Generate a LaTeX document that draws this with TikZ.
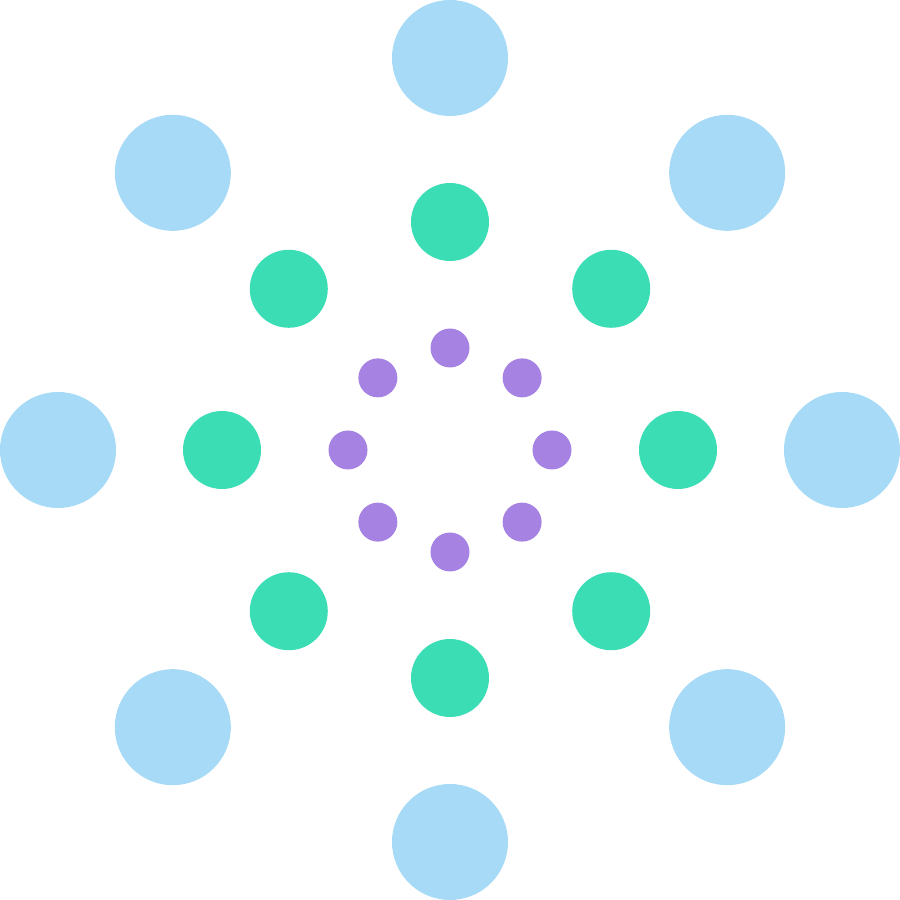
\documentclass[tikz,border=0pt]{standalone}
\usepackage{tikz}
\usetikzlibrary{calc}

\definecolor{outerblue}{HTML}{A6DAF6}
\definecolor{midgreen}{HTML}{3BDDB4}
\definecolor{innerpurple}{HTML}{A682E2}

\begin{document}
\begin{tikzpicture}[
    outer/.style={circle, fill=outerblue, inner sep=0pt, minimum size=11.6mm},
    middle/.style={circle, fill=midgreen, inner sep=0pt, minimum size=7.8mm},
    inner/.style={circle, fill=innerpurple, inner sep=0pt, minimum size=3.9mm}
    ]

    \useasboundingbox (0,0) rectangle (9,9);
    \coordinate (c) at (4.5,4.5);

    \foreach \i in {0,...,7} {
        \node[outer]  (o_\i) at ($(c)+(\i*45:3.92)$) {};
        \node[middle] (m_\i) at ($(c)+(\i*45:2.28)$) {};
        \node[inner]  (p_\i) at ($(c)+(\i*45:1.02)$) {};
    }
\end{tikzpicture}
\end{document}
